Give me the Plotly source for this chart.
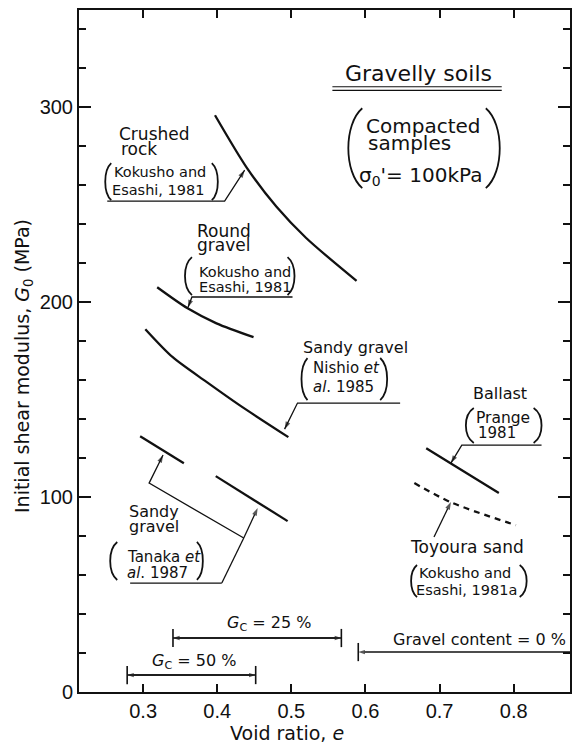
import plotly.graph_objects as go

# ---------------- data ----------------
crushed_e = [0.397, 0.440, 0.480, 0.520, 0.588]
crushed_g = [296.0, 269.0, 249.0, 233.0, 211.0]

round_e = [0.319, 0.360, 0.399, 0.449]
round_g = [207.7, 196.9, 189.2, 182.1]

nishio_e = [0.303, 0.340, 0.386, 0.430, 0.496]
nishio_g = [186.2, 171.8, 159.0, 147.2, 130.8]

tanaka1_e = [0.296, 0.355]
tanaka1_g = [131.3, 117.4]
tanaka2_e = [0.398, 0.495]
tanaka2_g = [110.8, 87.7]

ballast_e = [0.682, 0.717, 0.780]
ballast_g = [125.1, 116.9, 102.1]

toyoura_e = [0.666, 0.715, 0.803]
toyoura_g = [107.2, 97.4, 85.6]

# ranges of void ratio by gravel content
gc_labels = ["<i>G</i><sub>C</sub> = 50 %", "<i>G</i><sub>C</sub> = 25 %", "Gravel content = 0 %"]
gc_e_min = [0.2785, 0.3403, 0.5903]
gc_e_max = [0.4519, 0.5675, 0.95]
gc_closed = [True, True, False]
gc_level = [8.7, 27.7, 20.5]

x_ticks = [0.3, 0.4, 0.5, 0.6, 0.7, 0.8]
y_ticks = [0, 100, 200, 300]

# leader lines (polyline ending with an arrowhead at the last point)
leaders = [
    ([0.2516, 0.410, 0.437], [251.9, 251.9, 267.8]),            # crushed rock
    ([0.5016, 0.3659, 0.3605], [202.7, 202.7, 197.3]),          # round gravel
    ([0.6468, 0.5083, 0.4909], [148.3, 148.3, 134.9]),          # Nishio
    ([0.8376, 0.730, 0.7153], [126.7, 126.7, 117.5]),           # ballast
    ([0.6925, 0.7153], [79.5, 97.5]),                           # Toyoura
    ([0.2825, 0.4062, 0.4358, 0.4546], [55.9, 55.9, 79.0, 94.4]),  # Tanaka branch 2
    ([0.4358, 0.3081, 0.3269], [79.0, 107.2, 121.6]),           # Tanaka branch 1
]

BLACK = "#111111"
ANN_FONT = "DejaVu Sans"

fig = go.Figure()

def curve(x, y, dash="solid"):
    fig.add_trace(go.Scatter(x=x, y=y, mode="lines",
                             line=dict(color=BLACK, width=2.3, dash=dash, shape="spline", smoothing=0.8),
                             showlegend=False, hoverinfo="skip"))

curve(crushed_e, crushed_g)
curve(round_e, round_g)
curve(nishio_e, nishio_g)
curve(tanaka1_e, tanaka1_g)
curve(tanaka2_e, tanaka2_g)
curve(ballast_e, ballast_g)
curve(toyoura_e, toyoura_g, dash="6px,5px")

def arrow_line(xs, ys, width, head):
    n = len(xs)
    fig.add_trace(go.Scatter(x=xs, y=ys, mode="lines+markers", line=dict(color=BLACK, width=width),
                             marker=dict(symbol="arrow", angleref="previous", size=[0] * (n - 1) + [head],
                                         color=BLACK, line=dict(width=0)),
                             showlegend=False, hoverinfo="skip", cliponaxis=True))

for lx, ly in leaders:
    arrow_line(lx, ly, 1.3, 8)

# gravel content ranges
for lab, e0, e1, closed, lvl in zip(gc_labels, gc_e_min, gc_e_max, gc_closed, gc_level):
    arrow_line([e1, e0], [lvl, lvl], 1.4, 7)
    ends_x = [e0]
    if closed:
        arrow_line([e0, e1], [lvl, lvl], 1.4, 7)
        ends_x = [e0, e1]
    fig.add_trace(go.Scatter(x=ends_x, y=[lvl] * len(ends_x), mode="markers",
                             marker=dict(symbol="line-ns", size=13, line=dict(width=1.6, color=BLACK)),
                             showlegend=False, hoverinfo="skip"))

annotations = []

def txt(x, y, s, size, anchor="left"):
    annotations.append(dict(x=x, y=y, xref="x", yref="y", text=s, showarrow=False, xanchor=anchor,
                            yanchor="middle", font=dict(family=ANN_FONT, size=size, color=BLACK)))

# range labels
txt(0.3094, 15.9, gc_labels[0], 16)
txt(0.4102, 34.9, gc_labels[1], 16)
txt(0.6347, 27.2, gc_labels[2], 16)

# crushed rock
txt(0.2651, 286.3, "Crushed", 17)
txt(0.2677, 278.6, "rock", 17)
txt(0.2583, 266.8, "Kokusho and", 14.5)
txt(0.2556, 257.6, "Esashi, 1981", 14.5)
# round gravel
txt(0.3699, 236.5, "Round", 17)
txt(0.3699, 229.3, "gravel", 17)
txt(0.3726, 215.5, "Kokusho and", 14.5)
txt(0.3726, 207.8, "Esashi, 1981", 14.5)
# title block
txt(0.671, 317.6, "Gravelly soils", 22, anchor="center")
txt(0.5984, 290.4, "Compacted", 20)
txt(0.6011, 281.7, "samples", 20)
txt(0.589, 264.7, "σ<sub>0</sub>'= 100kPa", 20)
# Nishio
txt(0.5137, 177.0, "Sandy gravel", 16)
txt(0.5272, 166.2, "Nishio <i>et</i>", 15)
txt(0.5272, 156.5, "<i>al</i>. 1985", 15)
# ballast
txt(0.7812, 153.4, "Ballast", 16, anchor="center")
txt(0.7462, 140.6, "Prange", 15.5)
txt(0.7489, 132.9, "1981", 15)
# Toyoura
txt(0.7368, 74.4, "Toyoura sand", 17, anchor="center")
txt(0.7341, 61.1, "Kokusho and", 14.5, anchor="center")
txt(0.7361, 52.3, "Esashi, 1981a", 14.5, anchor="center")
# Tanaka
txt(0.2785, 92.4, "Sandy", 16)
txt(0.2785, 84.7, "gravel", 16)
txt(0.2758, 69.3, "Tanaka <i>et</i>", 15)
txt(0.2758, 61.1, "<i>al</i>. 1987", 15)

# axis titles
annotations.append(dict(x=0.4935, y=0, xref="x", yref="paper", yanchor="middle", xanchor="center", yshift=-41,
                        showarrow=False, text="Void ratio, <i>e</i>",
                        font=dict(family=ANN_FONT, size=19, color=BLACK)))
annotations.append(dict(x=0, y=167.3, xref="paper", yref="y", xanchor="center", yanchor="middle", xshift=-56,
                        showarrow=False, textangle=-90,
                        text="Initial shear modulus, <i>G</i><sub>0</sub> (MPa)",
                        font=dict(family=ANN_FONT, size=19, color=BLACK)))

# parentheses as drawn arcs
def paren_path(x_tip, x_bulge, y_top, y_bot):
    cx = (x_bulge - 0.25 * x_tip) / 0.75
    h = y_top - y_bot
    return f"M{x_tip},{y_top} C{cx},{y_top - 0.2 * h} {cx},{y_bot + 0.2 * h} {x_tip},{y_bot}"

paren_specs = [
    (0.2570, 0.2489, 0.3927, 0.4008, 271.4, 252.4),
    (0.3659, 0.3565, 0.4949, 0.5043, 223.2, 203.7),
    (0.5957, 0.5769, 0.7624, 0.7812, 299.6, 258.6),
    (0.5218, 0.5137, 0.6199, 0.6293, 171.4, 149.8),
    (0.7462, 0.7355, 0.8269, 0.8376, 145.7, 127.8),
    (0.6696, 0.6616, 0.8081, 0.8175, 65.2, 48.7),
    (0.2651, 0.2556, 0.3726, 0.3806, 77.0, 57.5),
]
shapes = []
for lt, lb, rt, rb, yt, yb in paren_specs:
    for tip, bul in ((lt, lb), (rt, rb)):
        shapes.append(dict(type="path", xref="x", yref="y", path=paren_path(tip, bul, yt, yb),
                           line=dict(color=BLACK, width=1.8)))
# double underline of the title
for yy in (310.6, 308.8):
    shapes.append(dict(type="line", xref="x", yref="y", x0=0.5554, x1=0.7839, y0=yy, y1=yy,
                       line=dict(color=BLACK, width=1.2)))

fig.update_layout(
    width=573, height=745,
    margin=dict(l=79, r=1, t=10, b=53),
    paper_bgcolor="white", plot_bgcolor="white",
    showlegend=False,
    annotations=annotations, shapes=shapes,
    xaxis=dict(range=[0.2135, 0.876], tickvals=x_ticks, ticktext=[f"{v:.1f}" for v in x_ticks],
               ticks="inside", ticklen=8, tickwidth=1.5, tickcolor=BLACK,
               showline=True, linewidth=2, linecolor=BLACK, mirror="ticks",
               showgrid=False, zeroline=False,
               tickfont=dict(family="Liberation Sans", size=20, color=BLACK)),
    yaxis=dict(range=[0, 350], tickvals=y_ticks, ticktext=[str(v) for v in y_ticks],
               ticks="inside", ticklen=12, tickwidth=1.5, tickcolor=BLACK,
               minor=dict(dtick=20, ticks="inside", ticklen=7, tickwidth=1.5, tickcolor=BLACK, showgrid=False),
               showline=True, linewidth=2, linecolor=BLACK, mirror="ticks",
               showgrid=False, zeroline=False,
               tickfont=dict(family="Liberation Sans", size=20, color=BLACK)),
)

fig.write_html("out.html")
